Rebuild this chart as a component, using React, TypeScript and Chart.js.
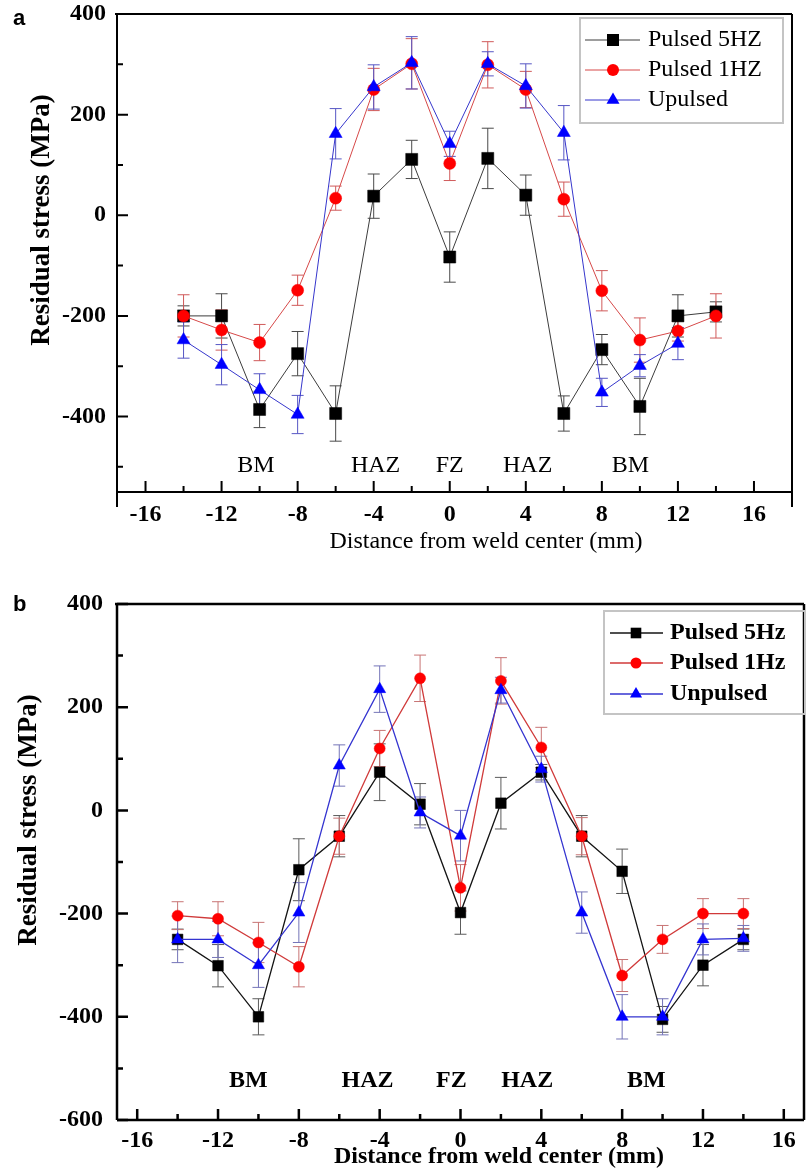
import React, { useEffect, useRef } from "react";
import { Chart, registerables } from "chart.js";
Chart.register(...registerables);

// ---------- data ----------
const positions = [-14, -12, -10, -8, -6, -4, -2, 0, 2, 4, 6, 8, 10, 12, 14];

const namesA = ["Pulsed 5HZ", "Pulsed 1HZ", "Upulsed"];
const namesB = ["Pulsed 5Hz", "Pulsed 1Hz", "Unpulsed"];

const aPulsed5 = [-200, -200, -386, -275, -394, 38, 111, -83, 113, 40, -394, -267, -380, -200, -192];
const aPulsed5Err = [20, 44, 36, 44, 55, 44, 38, 50, 60, 40, 35, 30, 56, 42, 20];
const aPulsed1 = [-200, -228, -253, -149, 34, 250, 301, 103, 299, 250, 32, -150, -248, -230, -200];
const aPulsed1Err = [42, 40, 36, 30, 24, 42, 50, 34, 46, 36, 34, 40, 44, 20, 44];
const aUnpulsed = [-248, -297, -347, -396, 162, 255, 303, 142, 301, 257, 164, -352, -299, -255, null];
const aUnpulsedErr = [36, 40, 32, 38, 50, 44, 52, 25, 24, 44, 54, 28, 22, 32, null];

const bPulsed5 = [-250, -301, -400, -115, -50, 74, 12, -198, 14, 74, -50, -118, -405, -300, -250];
const bPulsed5Err = [20, 41, 35, 60, 40, 55, 40, 42, 50, 15, 40, 43, 25, 40, 20];
const bPulsed1 = [-204, -210, -256, -303, -50, 120, 256, -150, 251, 122, -50, -320, -250, -200, -200];
const bPulsed1Err = [27, 33, 39, 39, 35, 35, 45, 45, 45, 39, 36, 31, 27, 29, 29];
const bUnpulsed = [-250, -250, -300, -198, 87, 235, -4, -49, 233, 80, -198, -400, -400, -250, -248];
const bUnpulsedErr = [45, 35, 43, 58, 40, 45, 30, 49, 25, 25, 40, 43, 35, 30, 25];

const xMajorTicks = [-16, -12, -8, -4, 0, 4, 8, 12, 16];
const xMinorTicks = [-14, -10, -6, -2, 2, 6, 10, 14];
const aYMajorTicks = [-400, -200, 0, 200, 400];
const aYMinorTicks = [-500, -300, -100, 100, 300];
const bYMajorTicks = [-600, -400, -200, 0, 200, 400];
const bYMinorTicks = [-500, -300, -100, 100, 300];

const zoneLabels = ["BM", "HAZ", "FZ", "HAZ", "BM"];
const aZoneX = [-10.2, -3.9, 0, 4.1, 9.5];
const aZoneY = -511;
const bZoneX = [-10.5, -4.6, -0.45, 3.3, 9.2];
const bZoneY = -537;

const yTitle = "Residual stress (MPa)";
const xTitle = "Distance from weld center (mm)";

// ---------- helpers ----------
const SERIF = "'Liberation Serif', 'Times New Roman', serif";
const pointStyles = ["rect", "circle", "triangle"];
const markerColors = ["#000000", "#ff0000", "#0000ff"];

function drawMarker(ctx, style, x, y, r, color) {
  ctx.save();
  ctx.fillStyle = color;
  ctx.beginPath();
  if (style === "rect") {
    const s = r * Math.SQRT1_2;
    ctx.rect(x - s, y - s, 2 * s, 2 * s);
  } else if (style === "circle") {
    ctx.arc(x, y, r, 0, Math.PI * 2);
  } else {
    ctx.moveTo(x, y - r);
    ctx.lineTo(x + 0.866 * r, y + 0.5 * r);
    ctx.lineTo(x - 0.866 * r, y + 0.5 * r);
    ctx.closePath();
  }
  ctx.fill();
  ctx.restore();
}

function buildPoints(vals, errs) {
  return positions
    .map((x, i) => ({ x, y: vals[i], e: errs[i] }))
    .filter((p) => p.y !== null);
}

function makeConfig(st) {
  const datasets = st.series.map((s, i) => ({
    label: st.names[i],
    data: buildPoints(s.vals, s.errs),
    showLine: true,
    borderColor: st.lineColors[i],
    borderWidth: st.lineW,
    backgroundColor: markerColors[i],
    pointBackgroundColor: markerColors[i],
    pointBorderColor: markerColors[i],
    pointBorderWidth: 0.5,
    pointStyle: pointStyles[i],
    pointRadius: st.radii[i],
    pointHoverRadius: st.radii[i],
    order: 2 - i,
    errorColor: st.errColors[i],
  }));

  const decor = {
    id: "decor",
    beforeDatasetsDraw(chart) {
      const ctx = chart.ctx;
      const xs = chart.scales.x;
      const ys = chart.scales.y;
      chart.data.datasets.forEach((ds) => {
        ctx.save();
        ctx.strokeStyle = ds.errorColor;
        ctx.lineWidth = st.errW;
        ds.data.forEach((p) => {
          if (p.e == null) return;
          const px = xs.getPixelForValue(p.x);
          const t = ys.getPixelForValue(p.y + p.e);
          const b = ys.getPixelForValue(p.y - p.e);
          ctx.beginPath();
          ctx.moveTo(px, t);
          ctx.lineTo(px, b);
          ctx.moveTo(px - st.cap, t);
          ctx.lineTo(px + st.cap, t);
          ctx.moveTo(px - st.cap, b);
          ctx.lineTo(px + st.cap, b);
          ctx.stroke();
        });
        ctx.restore();
      });
    },
    afterDraw(chart) {
      const ctx = chart.ctx;
      const a = chart.chartArea;
      const xs = chart.scales.x;
      const ys = chart.scales.y;
      ctx.save();
      // frame
      ctx.strokeStyle = "#000";
      ctx.lineWidth = st.frameW;
      ctx.beginPath();
      ctx.moveTo(a.left - 2, a.top);
      ctx.lineTo(a.right, a.top);
      ctx.moveTo(a.left, a.top);
      ctx.lineTo(a.left, a.bottom + st.extendBelow);
      ctx.moveTo(a.left, a.bottom);
      ctx.lineTo(a.right, a.bottom);
      ctx.moveTo(a.right, a.top);
      ctx.lineTo(a.right, a.bottom + st.extendBelow);
      ctx.stroke();
      // ticks
      ctx.lineWidth = st.tickW;
      ctx.beginPath();
      xMajorTicks.forEach((v) => {
        const px = xs.getPixelForValue(v);
        ctx.moveTo(px, a.bottom);
        ctx.lineTo(px, a.bottom - st.majorLen);
      });
      xMinorTicks.forEach((v) => {
        const px = xs.getPixelForValue(v);
        ctx.moveTo(px, a.bottom);
        ctx.lineTo(px, a.bottom - st.minorLen);
      });
      st.yMajor.forEach((v) => {
        const py = ys.getPixelForValue(v);
        ctx.moveTo(a.left, py);
        ctx.lineTo(a.left + st.majorLen, py);
      });
      st.yMinor.forEach((v) => {
        const py = ys.getPixelForValue(v);
        ctx.moveTo(a.left, py);
        ctx.lineTo(a.left + st.minorLen, py);
      });
      ctx.stroke();
      // zone labels
      ctx.fillStyle = "#000";
      ctx.font = st.zoneFont;
      ctx.textAlign = "center";
      ctx.textBaseline = "alphabetic";
      zoneLabels.forEach((t, i) => {
        ctx.fillText(t, xs.getPixelForValue(st.zoneX[i]), ys.getPixelForValue(st.zoneY));
      });
      // legend
      const L = st.legend;
      ctx.strokeStyle = "#c4c4c4";
      ctx.lineWidth = 2;
      ctx.strokeRect(L.box[0], L.box[1], L.box[2] - L.box[0], L.box[3] - L.box[1]);
      chart.data.datasets.forEach((ds, i) => {
        const y = L.rows[i];
        ctx.strokeStyle = ds.borderColor;
        ctx.lineWidth = st.lineW;
        ctx.beginPath();
        ctx.moveTo(L.lineX[0], y);
        ctx.lineTo(L.lineX[1], y);
        ctx.stroke();
        drawMarker(ctx, pointStyles[i], L.markerX, y, st.radii[i], markerColors[i]);
        ctx.fillStyle = "#000";
        ctx.font = L.font;
        ctx.textAlign = "left";
        ctx.textBaseline = "middle";
        ctx.fillText(ds.label, L.textX, y);
      });
      // axis titles
      ctx.fillStyle = "#000";
      ctx.font = st.xTitleFont;
      ctx.textAlign = "center";
      ctx.textBaseline = "alphabetic";
      ctx.fillText(xTitle, st.xTitlePos[0], st.xTitlePos[1]);
      ctx.save();
      ctx.translate(st.yTitlePos[0], st.yTitlePos[1]);
      ctx.rotate(-Math.PI / 2);
      ctx.font = st.yTitleFont;
      ctx.textAlign = "center";
      ctx.textBaseline = "alphabetic";
      ctx.fillText(yTitle, 0, 0);
      ctx.restore();
      // panel letter
      ctx.font = "bold 22px 'Liberation Sans', Arial, sans-serif";
      ctx.textAlign = "left";
      ctx.textBaseline = "alphabetic";
      ctx.fillText(st.letter, 13, st.letterY);
      ctx.restore();
    },
  };

  const tickFont = { family: SERIF, size: 24, weight: "bold" as const };

  return {
    type: "scatter" as const,
    data: { datasets },
    plugins: [decor],
    options: {
      animation: false as const,
      responsive: false,
      events: [],
      layout: { padding: { left: 0, top: st.padTop, right: st.padRight, bottom: 0 } },
      plugins: { legend: { display: false }, tooltip: { enabled: false } },
      scales: {
        x: {
          type: "linear" as const,
          min: st.xMin,
          max: st.xMax,
          afterBuildTicks: (s) => {
            s.ticks = xMajorTicks.map((v) => ({ value: v }));
          },
          afterFit: (s) => {
            s.height = st.xAxisH;
            s.paddingLeft = 0;
            s.paddingRight = 0;
          },
          grid: { display: false, drawTicks: false },
          border: { display: false },
          ticks: {
            autoSkip: false,
            maxRotation: 0,
            padding: st.xTickPad,
            font: tickFont,
            color: "#000",
            callback: (v) => String(v),
          },
        },
        y: {
          type: "linear" as const,
          min: st.yMin,
          max: st.yMax,
          afterBuildTicks: (s) => {
            s.ticks = st.yMajor.map((v) => ({ value: v }));
          },
          afterFit: (s) => {
            s.width = 117;
            s.paddingTop = 0;
            s.paddingBottom = 0;
          },
          grid: { display: false, drawTicks: false },
          border: { display: false },
          ticks: {
            autoSkip: false,
            padding: st.yTickPad,
            font: tickFont,
            color: "#000",
            callback: (v) => String(v),
          },
        },
      },
    },
  };
}

const styleA = {
  names: namesA,
  series: [
    { vals: aPulsed5, errs: aPulsed5Err },
    { vals: aPulsed1, errs: aPulsed1Err },
    { vals: aUnpulsed, errs: aUnpulsedErr },
  ],
  lineColors: ["#3c3c3c", "#d64848", "#3636cc"],
  errColors: ["#4a4a4a", "#d05a5a", "#5656c4"],
  lineW: 1,
  errW: 1,
  cap: 6,
  radii: [8.5, 6, 7.5],
  xMin: -17.5,
  xMax: 18,
  yMin: -550,
  yMax: 400,
  yMajor: aYMajorTicks,
  yMinor: aYMinorTicks,
  padTop: 14,
  padRight: 16,
  xAxisH: 83,
  xTickPad: 8,
  yTickPad: 11,
  frameW: 2,
  tickW: 2,
  majorLen: 11,
  minorLen: 6,
  extendBelow: 15,
  zoneX: aZoneX,
  zoneY: aZoneY,
  zoneFont: `24px ${SERIF}`,
  legend: {
    box: [580, 18, 783, 123],
    rows: [40, 70, 100],
    lineX: [585, 640],
    markerX: 613,
    textX: 648,
    font: `24px ${SERIF}`,
  },
  xTitleFont: `24px ${SERIF}`,
  xTitlePos: [486, 548],
  yTitleFont: `bold 27px ${SERIF}`,
  yTitlePos: [49, 220],
  letter: "a",
  letterY: 25,
};

const styleB = {
  names: namesB,
  series: [
    { vals: bPulsed5, errs: bPulsed5Err },
    { vals: bPulsed1, errs: bPulsed1Err },
    { vals: bUnpulsed, errs: bUnpulsedErr },
  ],
  lineColors: ["#141414", "#d03a3a", "#3434d0"],
  errColors: ["#5c5c5c", "#c87474", "#7474b8"],
  lineW: 1.3,
  errW: 1,
  cap: 6,
  radii: [7.5, 5.5, 7],
  xMin: -17,
  xMax: 17,
  yMin: -600,
  yMax: 400,
  yMajor: bYMajorTicks,
  yMinor: bYMinorTicks,
  padTop: 29,
  padRight: 1,
  xAxisH: 52,
  xTickPad: 6,
  yTickPad: 14,
  frameW: 2.5,
  tickW: 2.5,
  majorLen: 11,
  minorLen: 6,
  extendBelow: 0,
  zoneX: bZoneX,
  zoneY: bZoneY,
  zoneFont: `bold 24px ${SERIF}`,
  legend: {
    box: [604, 36, 805, 139],
    rows: [58, 88, 119],
    lineX: [610, 663],
    markerX: 636,
    textX: 670,
    font: `bold 24px ${SERIF}`,
  },
  xTitleFont: `bold 24px ${SERIF}`,
  xTitlePos: [499, 588],
  yTitleFont: `bold 27px ${SERIF}`,
  yTitlePos: [36, 245],
  letter: "b",
  letterY: 36,
};

function Panel({ st, w, h, top }) {
  const ref = useRef<HTMLCanvasElement>(null);
  useEffect(() => {
    const chart = new Chart(ref.current as HTMLCanvasElement, makeConfig(st) as any);
    return () => chart.destroy();
  }, []);
  return (
    <canvas
      ref={ref}
      width={w}
      height={h}
      style={{ position: "absolute", left: 0, top, width: w, height: h }}
    />
  );
}

export default function App() {
  return (
    <div
      style={{
        position: "absolute",
        left: 0,
        top: 0,
        width: 808,
        height: 1172,
        overflow: "hidden",
        background: "#ffffff",
      }}
    >
      <Panel st={styleA} w={808} h={575} top={0} />
      <Panel st={styleB} w={812} h={597} top={575} />
    </div>
  );
}
